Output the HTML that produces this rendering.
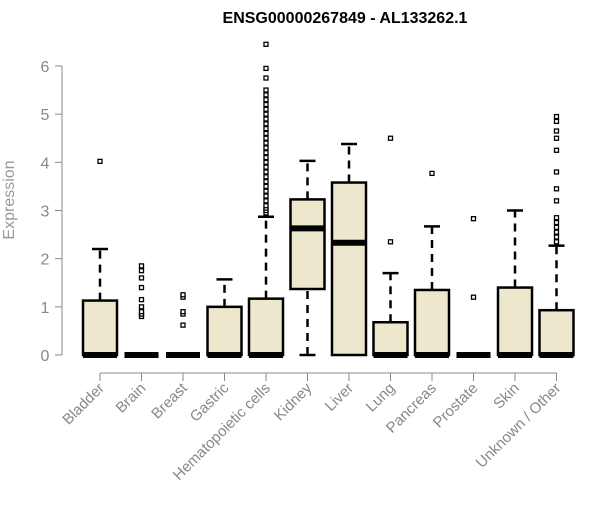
<!DOCTYPE html>
<html><head><meta charset="utf-8"><style>
body{margin:0;background:#fff}
svg text{font-family:"Liberation Sans",Arial,sans-serif}
</style></head><body>
<svg id="chart" width="600" height="500" xmlns="http://www.w3.org/2000/svg">
<text x="345" y="23" text-anchor="middle" font-size="16" font-weight="bold">ENSG00000267849 - AL133262.1</text>
<text transform="translate(14,200) rotate(-90)" text-anchor="middle" font-size="16" fill="#999">Expression</text>
<g id="yaxis"></g>
<g id="xaxis"></g>
<g id="boxes"></g>
</svg>
<script>
const categories=["Bladder","Brain","Breast","Gastric","Hematopoietic cells","Kidney","Liver","Lung","Pancreas","Prostate","Skin","Unknown / Other"];
const whiskLo=[0,0,0,0,0,0,0,0,0,0,0,0];
const q1=[0,0,0,0,0,1.37,0,0,0,0,0,0];
const medians=[0,0,0,0,0,2.63,2.33,0,0,0,0,0];
const q3=[1.13,0,0,1.0,1.17,3.23,3.58,0.68,1.35,0,1.4,0.93];
const whiskHi=[2.2,0,0,1.57,2.87,4.03,4.38,1.7,2.67,0,3.0,2.27];
const outliers=[[4.02],[0.8,0.85,0.9,1.0,1.15,1.4,1.6,1.75,1.85],[0.62,0.85,0.9,1.2,1.25],[],
[2.95,3.0,3.05,3.1,3.2,3.3,3.4,3.5,3.6,3.7,3.8,3.9,4.0,4.1,4.2,4.3,4.4,4.5,4.6,4.7,4.8,4.9,5.0,5.1,5.2,5.3,5.4,5.5,5.75,5.95,6.45],
[],[],[2.35,4.5],[3.77],[1.2,2.83],[],[2.35,2.45,2.55,2.65,2.75,2.85,3.2,3.45,3.8,4.25,4.5,4.65,4.85,4.95]];
const yTicks=[0,1,2,3,4,5,6];
const NS="http://www.w3.org/2000/svg";
const y=v=>355-v*48.17;
const xc=i=>100+i*41.5;
function mk(tag,attrs,parent){const e=document.createElementNS(NS,tag);for(const k in attrs)e.setAttribute(k,attrs[k]);parent.appendChild(e);return e;}
const ya=document.getElementById('yaxis');
let l=mk('line',{x1:62,x2:62,y1:y(6),y2:y(0),stroke:'#888'},ya);


yTicks.forEach(t=>{
 const tk=mk('line',{x1:55,x2:62,y1:y(t),y2:y(t),stroke:'#888'},ya);
 
 
 const tx=mk('text',{x:45,y:y(t)+6,'text-anchor':'middle','font-size':16,fill:'#888'},ya);
 tx.textContent=t;
 
 
});
const xa=document.getElementById('xaxis');
l=mk('line',{x1:xc(0),x2:xc(11),y1:373,y2:373,stroke:'#888'},xa);


categories.forEach((c,i)=>{
 const tk=mk('line',{x1:xc(i),x2:xc(i),y1:373,y2:381,stroke:'#888'},xa);
 
 
 const tx=mk('text',{transform:`translate(${xc(i)+5},389) rotate(-45)`,'text-anchor':'end','font-size':15,fill:'#888'},xa);
 tx.textContent=c;
 
 
});
const bx=document.getElementById('boxes');
categories.forEach((c,i)=>{
 const g=mk('g',{},bx);
 
 
 const x=xc(i),w=34;
 if(whiskHi[i]>q3[i]){
  mk('line',{x1:x,x2:x,y1:y(q3[i]),y2:y(whiskHi[i]),stroke:'#000','stroke-width':2.5,'stroke-dasharray':'8,6'},g);
  mk('line',{x1:x-8,x2:x+8,y1:y(whiskHi[i]),y2:y(whiskHi[i]),stroke:'#000','stroke-width':2.5},g);
 }
 if(q1[i]>whiskLo[i]){
  mk('line',{x1:x,x2:x,y1:y(whiskLo[i]),y2:y(q1[i]),stroke:'#000','stroke-width':2.5,'stroke-dasharray':'8,6'},g);
  mk('line',{x1:x-8,x2:x+8,y1:y(whiskLo[i]),y2:y(whiskLo[i]),stroke:'#000','stroke-width':2.5},g);
 }
 mk('rect',{x:x-w/2,y:y(q3[i]),width:w,height:Math.max(0,y(q1[i])-y(q3[i])),fill:'#ede7cd',stroke:'#000','stroke-width':2.5},g);
 mk('line',{x1:x-w/2,x2:x+w/2,y1:y(medians[i]),y2:y(medians[i]),stroke:'#000','stroke-width':6},g);
 outliers[i].forEach(v=>{
  const p=mk('rect',{x:x-2,y:y(v)-2,width:4,height:4,fill:'#fff',stroke:'#000','stroke-width':1.3},g);
  
  
 });
});
</script>
</body></html>
